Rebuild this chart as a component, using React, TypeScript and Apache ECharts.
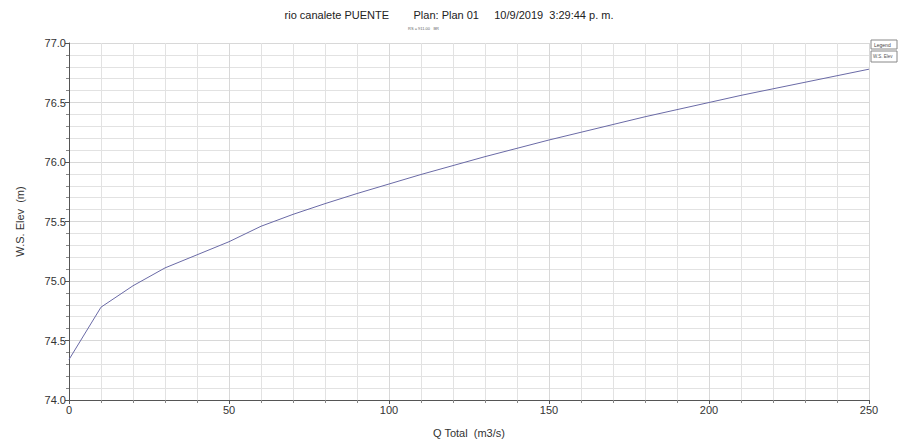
import React, { useEffect, useRef } from "react";
import * as echarts from "echarts";

const flows = [0, 10, 20, 30, 40, 50, 60, 70, 80, 90, 100, 110, 120, 130, 140, 150, 160, 170, 180, 190, 200, 210, 220, 230, 240, 250];
const wsElev = [74.34, 74.78, 74.96, 75.11, 75.22, 75.33, 75.46, 75.56, 75.65, 75.735, 75.815, 75.895, 75.97, 76.045, 76.115, 76.185, 76.25, 76.315, 76.38, 76.44, 76.5, 76.56, 76.615, 76.67, 76.725, 76.78];
const titleText = "rio canalete PUENTE        Plan: Plan 01     10/9/2019  3:29:44 p. m.";
const subText = "RS = 911.00   BR";
const xName = "Q Total  (m3/s)";
const yName = "W.S. Elev  (m)";
const seriesName = "W.S. Elev";

export default function App() {
  const ref = useRef<HTMLDivElement>(null);
  useEffect(() => {
    if (!ref.current) return;
    const chart = echarts.init(ref.current, null, { renderer: "svg" });
    const font = "Liberation Sans, Arial, sans-serif";
    chart.setOption({
      animation: false,
      backgroundColor: "#ffffff",
      textStyle: { fontFamily: font },
      grid: { left: 69, right: 29, top: 43, bottom: 44, containLabel: false },
      xAxis: {
        type: "value",
        min: 0,
        max: 250,
        interval: 50,
        name: xName,
        nameLocation: "middle",
        nameGap: 27,
        nameTextStyle: { fontSize: 11, color: "#333", fontFamily: font },
        axisLine: { show: true, lineStyle: { color: "#555", width: 1 } },
        axisTick: { show: true, length: 4, lineStyle: { color: "#555" } },
        minorTick: { show: true, splitNumber: 5, length: 3, lineStyle: { color: "#888" } },
        axisLabel: { fontSize: 11, color: "#333", margin: 4, fontFamily: font },
        splitLine: { show: true, lineStyle: { color: "#d8d8d8", width: 1 } },
        minorSplitLine: { show: true, lineStyle: { color: "#e2e2e2", width: 1 } },
      },
      yAxis: {
        type: "value",
        min: 74,
        max: 77,
        interval: 0.5,
        name: yName,
        nameLocation: "middle",
        nameGap: 44,
        nameTextStyle: { fontSize: 11, color: "#333", fontFamily: font },
        axisLine: { show: true, lineStyle: { color: "#555", width: 1 } },
        axisTick: { show: true, length: 4, lineStyle: { color: "#555" } },
        minorTick: { show: true, splitNumber: 5, length: 3, lineStyle: { color: "#888" } },
        axisLabel: { fontSize: 11, color: "#333", margin: 3, fontFamily: font, formatter: (v: number) => v.toFixed(1) },
        splitLine: { show: true, lineStyle: { color: "#d8d8d8", width: 1 } },
        minorSplitLine: { show: true, lineStyle: { color: "#e2e2e2", width: 1 } },
      },
      series: [
        {
          name: seriesName,
          type: "line",
          data: flows.map((q, i) => [q, wsElev[i]]),
          showSymbol: false,
          lineStyle: { color: "#6a6aa6", width: 1 },
        },
      ],
      graphic: [
        { type: "text", left: "center", top: 9, style: { text: titleText, fontSize: 11, fill: "#222", fontFamily: font } },
        { type: "text", x: 408, y: 26, style: { text: subText, fontSize: 4, fill: "#666", fontFamily: font } },
        { type: "rect", shape: { x: 871, y: 40, width: 26, height: 9 }, style: { fill: "#fff", stroke: "#888", lineWidth: 1 } },
        { type: "text", x: 874, y: 42, style: { text: "Legend", fontSize: 5, fill: "#444", fontFamily: font } },
        { type: "rect", shape: { x: 871, y: 51, width: 26, height: 11 }, style: { fill: "#fff", stroke: "#888", lineWidth: 1 } },
        { type: "text", x: 873, y: 54, style: { text: seriesName, fontSize: 4.5, fill: "#555", fontFamily: font } },
      ],
    });
    return () => chart.dispose();
  }, []);
  return <div ref={ref} style={{ width: 898, height: 444, position: "absolute", left: 0, top: 0 }} />;
}
